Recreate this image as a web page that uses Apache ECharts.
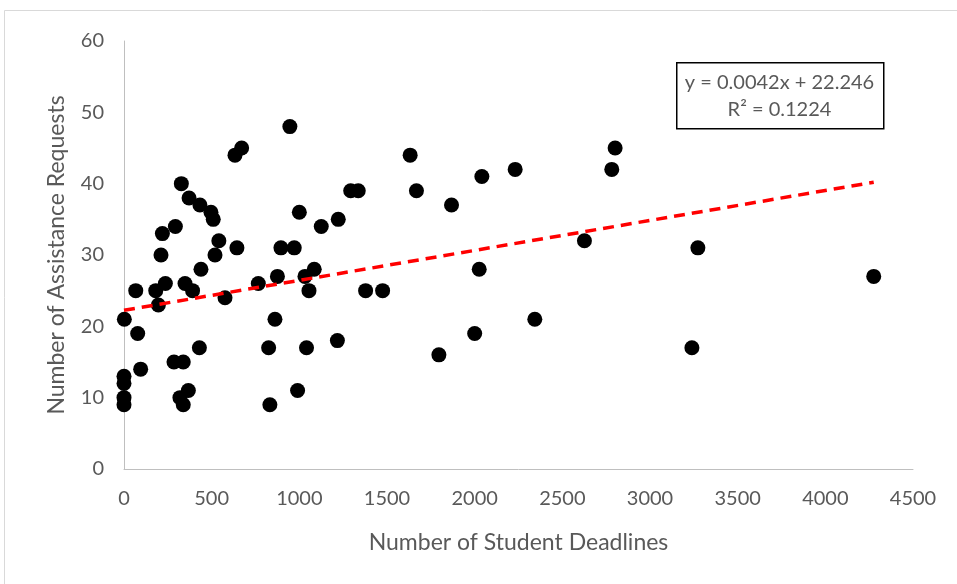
<!DOCTYPE html>
<html>
<head>
<meta charset="utf-8">
<script src="https://cdn.jsdelivr.net/npm/echarts@6/dist/echarts.min.js"></script>
<style>html,body{margin:0;padding:0;background:#fff}#c{width:957px;height:584px}</style>
</head>
<body>
<div id="c"></div>
<script>
const deadlines = [0,0,0,0,2,67,78,95,181,196,211,219,236,293,285,327,319,338,338,348,371,367,391,433,430,439,496,509,519,541,576,633,671,644,766,861,825,832,875,895,946,971,990,1000,1032,1041,1055,1085,1125,1217,1222,1293,1336,1378,1475,1632,1668,1796,1868,2000,2026,2041,2231,2343,2626,2782,2801,3239,3273,4276];
const requests  = [9,10,12,13,21,25,19,14,25,23,30,33,26,34,15,40,10,15,9,26,38,11,25,37,17,28,36,35,30,32,24,44,45,31,26,21,17,9,27,31,48,31,11,36,27,17,25,28,34,18,35,39,39,25,25,44,39,16,37,19,28,41,42,21,32,42,45,17,31,27];
const trendSlope = 0.0042;
const trendIntercept = 22.246;
const trendRange = [0, 4276];
const xTicks = [0,500,1000,1500,2000,2500,3000,3500,4000,4500];
const yTicks = [0,10,20,30,40,50,60];
const eqLines = ['y = 0.0042x + 22.246', 'R² = 0.1224'];

const points = deadlines.map((d,i)=>[d, requests[i]]);
const trend = trendRange.map(x=>[x, trendSlope*x + trendIntercept]);
const font = 'Lato, "Liberation Sans", sans-serif';

const chart = echarts.init(document.getElementById('c'));
chart.setOption({
  animation: false,
  backgroundColor: '#fff',
  grid: {left: 124, right: 44, top: 41, bottom: 115, containLabel: false},
  xAxis: {
    type: 'value', min: xTicks[0], max: xTicks[xTicks.length-1], interval: 500,
    name: 'Number of Student Deadlines', nameLocation: 'middle', nameGap: 62,
    nameTextStyle: {color: '#595959', fontSize: 23, fontFamily: font},
    axisLine: {show: true, lineStyle: {color: '#bfbfbf', width: 1}},
    axisTick: {show: false},
    splitLine: {show: false},
    axisLabel: {color: '#595959', fontSize: 20, fontFamily: font, margin: 20, formatter: v => String(v)}
  },
  yAxis: {
    type: 'value', min: yTicks[0], max: yTicks[yTicks.length-1], interval: 10,
    name: 'Number of Assistance Requests', nameLocation: 'middle', nameGap: 56,
    nameTextStyle: {color: '#595959', fontSize: 23, fontFamily: font},
    axisLine: {show: true, lineStyle: {color: '#bfbfbf', width: 1}},
    axisTick: {show: false},
    splitLine: {show: false},
    axisLabel: {color: '#595959', fontSize: 20, fontFamily: font, margin: 20, formatter: v => String(v)}
  },
  series: [
    {
      type: 'line', data: trend, symbol: 'none', silent: true, z: 3,
      lineStyle: {color: '#ff0000', width: 3.5, type: [11, 7]}
    },
    {
      type: 'scatter', data: points, symbol: 'circle', symbolSize: 15, z: 2,
      itemStyle: {color: '#000000', opacity: 1}
    }
  ],
  graphic: [
    {type: 'rect', left: 2, top: 8, shape: {width: 954, height: 575},
     style: {fill: 'none', stroke: '#d9d9d9', lineWidth: 1}, silent: true},
    {type: 'rect', left: 676, top: 62, shape: {width: 207, height: 66},
     style: {fill: '#fff', stroke: '#000', lineWidth: 1.5}, z: 10},
    {type: 'text', x: 779.5, y: 83, z: 11,
     style: {text: eqLines[0], fill: '#595959', font: '20px ' + font, align: 'center', verticalAlign: 'middle'}},
    {type: 'text', x: 779.5, y: 110, z: 11,
     style: {text: eqLines[1], fill: '#595959', font: '20px ' + font, align: 'center', verticalAlign: 'middle'}}
  ]
});
</script>
</body>
</html>
